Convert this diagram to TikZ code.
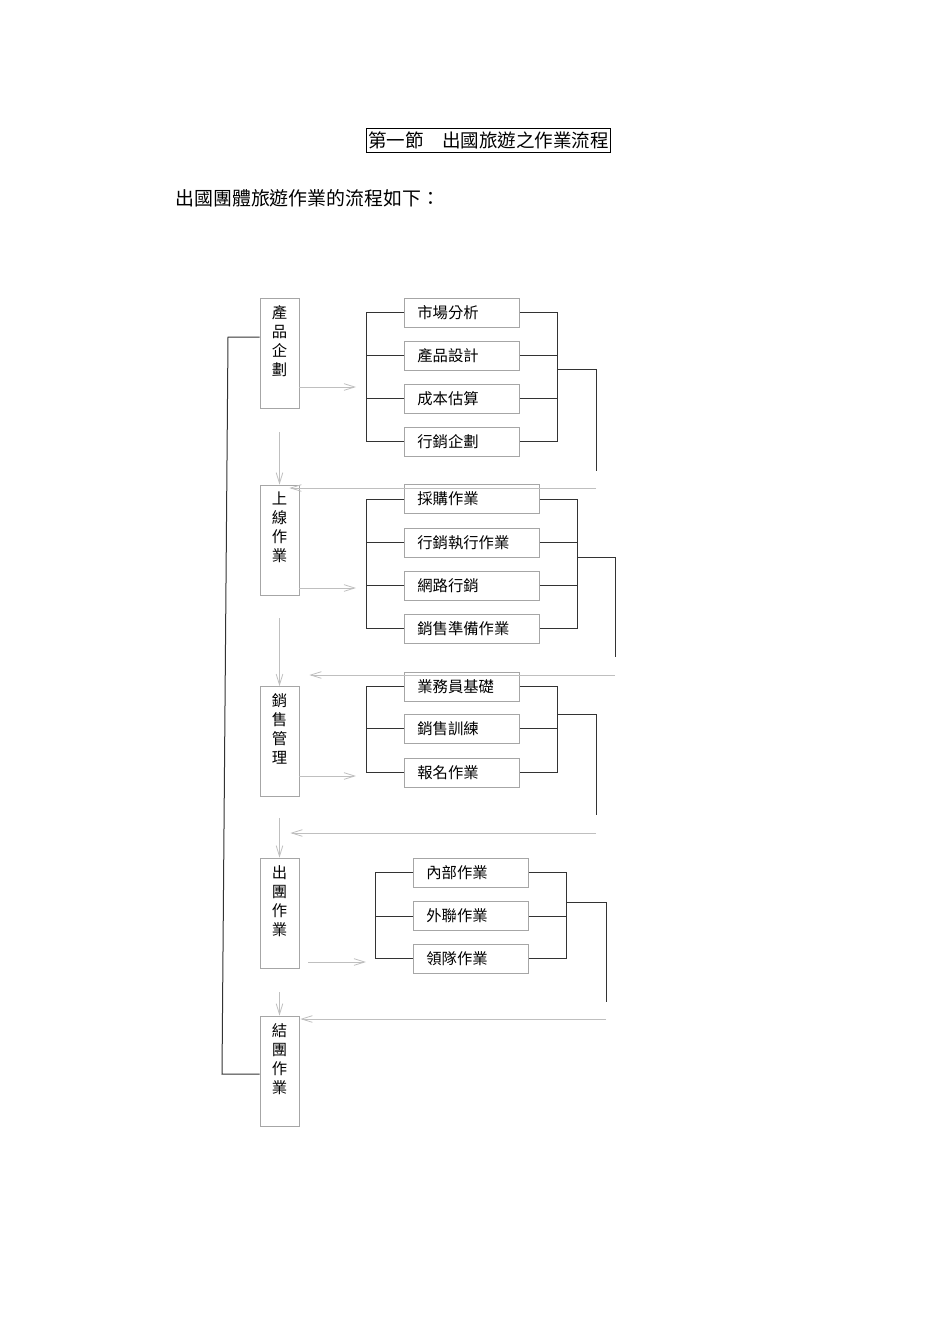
\documentclass[tikz,border=0pt]{standalone}
\usepackage{fontspec}
\newfontfamily\cjk{Noto Sans CJK TC}
\usetikzlibrary{arrows.meta,calc}

\begin{document}
\begin{tikzpicture}[x=0.75pt,y=-0.75pt]
\tikzstyle{every node}=[font=\cjk\fontsize{11.5}{14.25}\selectfont];
\tikzstyle{stage}=[draw=black!35,line width=0.6pt,minimum width=29.25pt,minimum height=82.5pt,inner sep=0pt];
\tikzstyle{stagetext}=[anchor=north,align=center,inner sep=0pt,yshift=-5.5pt];
\tikzstyle{task}=[draw=black!35,line width=0.6pt,anchor=west,minimum height=21.75pt,inner xsep=9.75pt,inner ysep=0pt,text width=66.75pt,align=left];
\tikzstyle{wide}=[text width=81.75pt];
\tikzstyle{bracket}=[draw=black!80,line width=0.75pt];
\tikzstyle{fwd}=[draw=black!25,line width=0.6pt,-{Straight Barb[length=8pt,width=5pt]}];
\useasboundingbox (0,0) rectangle (950,1344);

\node[draw,line width=0.6pt,inner xsep=1pt,inner ysep=0pt,minimum height=18pt,font=\cjk\fontsize{13.9}{16}\selectfont] (title) at (488.5,140) {第一節　出國旅遊之作業流程};
\node[anchor=west,inner sep=0pt,font=\cjk\fontsize{14.2}{16}\selectfont] (intro) at (175,198) {出國團體旅遊作業的流程如下：};

\node[stage] (s1) at (279.5,353) {};
\node[stagetext] (t1) at (s1.north) {產\\品\\企\\劃};
\node[stage] (s2) at (279.5,540) {};
\node[stagetext] (t2) at (s2.north) {上\\線\\作\\業};
\node[stage] (s3) at (279.5,741.5) {};
\node[stagetext] (t3) at (s3.north) {銷\\售\\管\\理};
\node[stage] (s4) at (279.5,913) {};
\node[stagetext] (t4) at (s4.north) {出\\團\\作\\業};
\node[stage] (s5) at (279.5,1071) {};
\node[stagetext] (t5) at (s5.north) {結\\團\\作\\業};

\node[task] (a1) at (404,312.5) {市場分析};
\node[task] (a2) at (404,355.5) {產品設計};
\node[task] (a3) at (404,398.5) {成本估算};
\node[task] (a4) at (404,441.5) {行銷企劃};

\node[task,wide] (b1) at (404,499) {採購作業};
\node[task,wide] (b2) at (404,542.5) {行銷執行作業};
\node[task,wide] (b3) at (404,585.5) {網路行銷};
\node[task,wide] (b4) at (404,628.5) {銷售準備作業};

\node[task] (c1) at (404,686.5) {業務員基礎};
\node[task] (c2) at (404,728.5) {銷售訓練};
\node[task] (c3) at (404,772.5) {報名作業};

\node[task] (d1) at (413,872.5) {內部作業};
\node[task] (d2) at (413,916) {外聯作業};
\node[task] (d3) at (413,958.5) {領隊作業};

\coordinate (out1) at (557,369);
\coordinate (down1) at (596,471);
\coordinate (ret1) at (596,488);
\coordinate (in1) at (356,387);
\coordinate (out2) at (577,557);
\coordinate (down2) at (615,657);
\coordinate (ret2) at (615,675);
\coordinate (in2) at (356,588);
\coordinate (out3) at (557,714);
\coordinate (down3) at (596,815);
\coordinate (ret3) at (596,833);
\coordinate (in3) at (356,776);
\coordinate (out4) at (567,902);
\coordinate (down4) at (606,1002);
\coordinate (ret4) at (606,1019);
\coordinate (in4) at (366,962);
\coordinate (top) at (228,337);
\coordinate (bot) at (222,1074);

\draw[bracket] (a1.west) -- ++(-38,0) |- (a4.west) (a2.west) -- ++(-38,0) (a3.west) -- ++(-38,0);
\draw[bracket] (a1.east) -- ++(38,0) |- (a4.east) (a2.east) -- ++(38,0) (a3.east) -- ++(38,0);
\draw[bracket] (b1.west) -- ++(-38,0) |- (b4.west) (b2.west) -- ++(-38,0) (b3.west) -- ++(-38,0);
\draw[bracket] (b1.east) -- ++(38,0) |- (b4.east) (b2.east) -- ++(38,0) (b3.east) -- ++(38,0);
\draw[bracket] (c1.west) -- ++(-38,0) |- (c3.west) (c2.west) -- ++(-38,0);
\draw[bracket] (c1.east) -- ++(38,0) |- (c3.east) (c2.east) -- ++(38,0);
\draw[bracket] (d1.west) -- ++(-38,0) |- (d3.west) (d2.west) -- ++(-38,0);
\draw[bracket] (d1.east) -- ++(38,0) |- (d3.east) (d2.east) -- ++(38,0);

\draw[bracket] (out1) -| (down1);
\draw[bracket] (out2) -| (down2);
\draw[bracket] (out3) -| (down3);
\draw[bracket] (out4) -| (down4);

\draw[fwd] (ret1) -- ($(ret1 -| s2.east)+(-10,0)$);
\draw[fwd] (ret2) -- ($(ret2 -| s3.east)+(10,0)$);
\draw[fwd] (ret3) -- ($(ret3 -| s4.east)+(-9,0)$);
\draw[fwd] (ret4) -- ($(ret4 -| s5.east)+(1,0)$);

\draw[fwd] (s1.east |- in1) -- (in1);
\draw[fwd] (s2.east |- in2) -- (in2);
\draw[fwd] (s3.east |- in3) -- (in3);
\draw[fwd] ($(s4.east |- in4)+(9,0)$) -- (in4);

\draw[fwd] ($(s1.south)+(0,24)$) -- (s2.north);
\draw[fwd] ($(s2.south)+(0,23)$) -- (s3.north);
\draw[fwd] ($(s3.south)+(0,21)$) -- (s4.north);
\draw[fwd] ($(s4.south)+(0,24)$) -- (s5.north);

\draw[bracket] (s1.west |- top) -- (top) -- (bot) -- (s5.west |- bot);
\end{tikzpicture}
\end{document}
